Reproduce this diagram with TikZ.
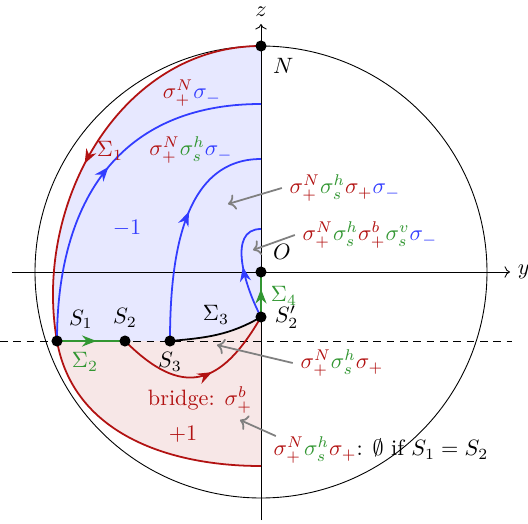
\documentclass[tikz,border=0pt]{standalone}
\usetikzlibrary{arrows.meta,decorations.markings}
\definecolor{cred}{RGB}{178,18,18}
\definecolor{cblue}{RGB}{50,60,255}
\definecolor{cgreen}{RGB}{50,150,50}
\newcommand{\sigN}{\textcolor{cred}{\sigma_+^N}}
\newcommand{\sigH}{\textcolor{cgreen}{\sigma_s^h}}
\newcommand{\sigV}{\textcolor{cgreen}{\sigma_s^v}}
\newcommand{\sigB}{\textcolor{cred}{\sigma_+^b}}
\newcommand{\sigP}{\textcolor{cred}{\sigma_+}}
\newcommand{\sigM}{\textcolor{cblue}{\sigma_-}}
\begin{document}
\begin{tikzpicture}[x=0.45pt,y=0.45pt,
        dot/.style={circle,fill=black,inner sep=0pt,minimum size=5pt},
        midarr/.style={postaction={decorate},decoration={markings,
            mark=at position #1 with {\arrow{Stealth[length=6.5pt,width=5pt]}}}},
        note/.style={gray,thick,->}]
    \useasboundingbox (-261,-251) rectangle (267,272);
    \coordinate (O) at (0,0);
    \coordinate (N) at (0,226);
    \coordinate (S1) at (-204,-69);
    \coordinate (S2) at (-136,-69);
    \coordinate (S3) at (-91,-69);
    \coordinate (S2p) at (0,-45);
    \coordinate (B) at (0,-194);
    \coordinate (T1) at (0,168);
    \coordinate (T2) at (0,113);
    \coordinate (T3) at (0,43);
    \fill[cblue!12] (N) to[out=180,in=100] (S1) -- (S3) to[out=5,in=-150] (S2p) -- cycle;
    \fill[cred!10] (S1) -- (S3) to[out=5,in=-150] (S2p) -- (B) to[out=180,in=-80] (S1) -- cycle;
    \draw[->] (-249,0) -- (249,0) node[right] {$y$};
    \draw[->] (0,-248) -- (0,248) node[above] {$z$};
    \draw (O) circle[radius=226];
    \draw[dash pattern=on 3.5pt off 2.5pt] (-261,-69) -- (251,-69);
    \draw[cred,thick,midarr=0.55] (N) to[out=180,in=100] (S1);
    \draw[cred,thick] (S1) to[out=-80,in=180] (B);
    \draw[cred,thick,midarr=0.57] (S2) to[out=-45,in=-120,looseness=1.5] (S2p);
    \draw[cblue,thick,midarr=0.52] (S1) to[out=90,in=180,looseness=1.15] (T1);
    \draw[cblue,thick,midarr=0.58] (S3) to[out=90,in=180] (T2);
    \draw[cblue,thick,midarr=0.52] (S2p) to[out=118,in=180] (T3);
    \draw[thick] (S3) to[out=5,in=-150] (S2p);
    \draw[cgreen,thick,midarr=0.58] (S1) -- (S2);
    \draw[cgreen,thick,midarr=0.62] (S2p) -- (O);
    \node[dot,label={below right:$N$}] (dN) at (N) {};
    \node[dot,label={above right:$O$}] (dO) at (O) {};
    \node[dot,label={above right:$S_1$}] (dS1) at (S1) {};
    \node[dot,label={above:$S_2$}] (dS2) at (S2) {};
    \node[dot,label={[label distance=-1pt]below:$S_3$}] (dS3) at (S3) {};
    \node[dot,label={right:$S_2'$}] (dS2p) at (S2p) {};
    \node[cred] (lSig1) at (-151,121) {$\Sigma_1$};
    \node[cgreen] (lSig2) at (-176,-90) {$\Sigma_2$};
    \node (lSig3) at (-45,-43) {$\Sigma_3$};
    \node[cgreen] (lSig4) at (23,-24) {$\Sigma_4$};
    \node[cblue] (lMinus) at (-134,44) {$-1$};
    \node[cred] (lPlus) at (-78,-162) {$+1$};
    \node[cred] (lBridge) at (-61,-128) {bridge: $\sigma_+^b$};
    \node (lOut) at (-69,179) {$\sigN\sigM$};
    \node (lMid) at (-70,122) {$\sigN\sigH\sigM$};
    \node (lA) at (84,84) {$\sigN\sigH\sigP\sigM$};
    \node (lB) at (109,37) {$\sigN\sigH\sigB\sigV\sigM$};
    \node (lC) at (81,-91) {$\sigN\sigH\sigP$};
    \node (lD) at (120,-178) {$\sigN\sigH\sigP$: $\emptyset$ if $S_1=S_2$};
    \coordinate (tA) at (-33,68);
    \coordinate (tB) at (-8,22);
    \coordinate (tC) at (-44,-73);
    \coordinate (tD) at (-21,-148);
    \draw[note] (lA.west) -- (tA);
    \draw[note] (lB.west) -- (tB);
    \draw[note] (lC.west) -- (tC);
    \draw[note] ([shift={(10,-7)}]lD.north west) -- (tD);
\end{tikzpicture}
\end{document}
